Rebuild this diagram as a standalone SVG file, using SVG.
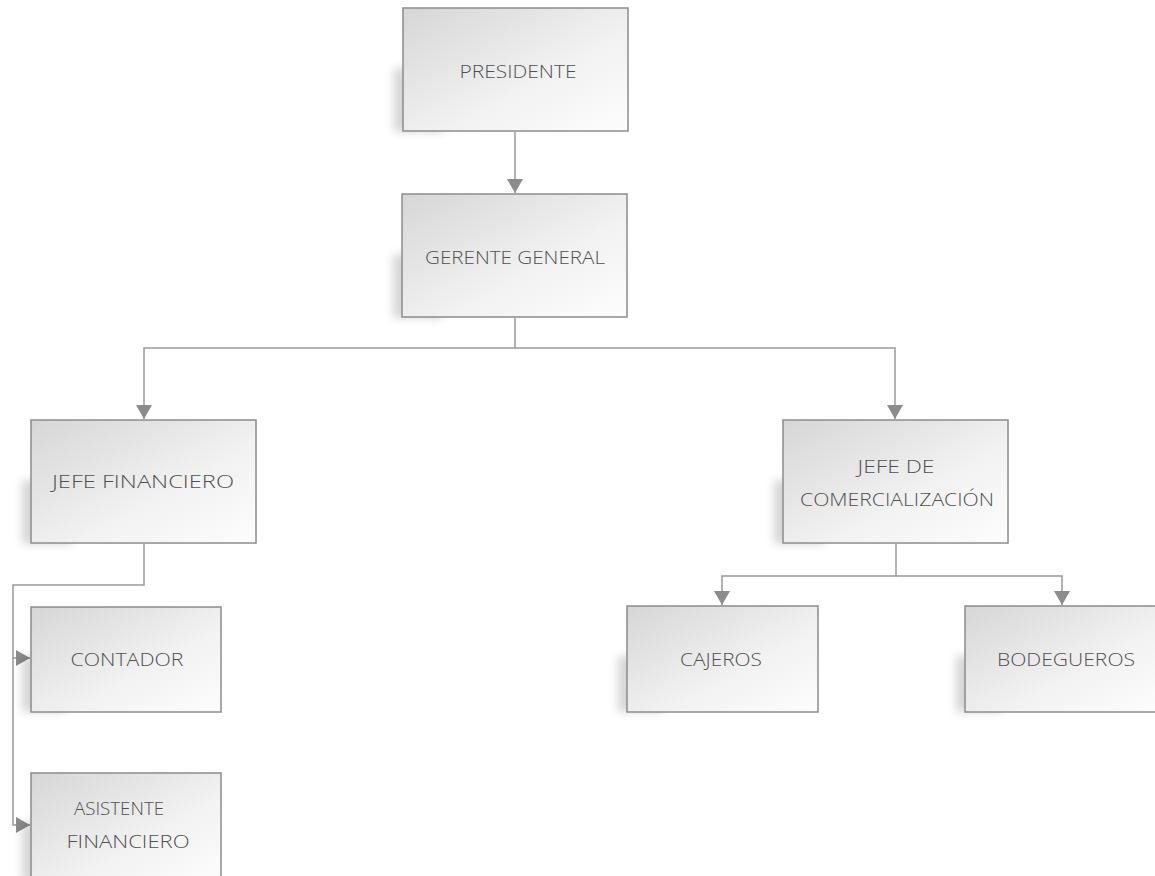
<svg xmlns="http://www.w3.org/2000/svg" width="1155" height="876" viewBox="0 0 1155 876">
<defs>
<linearGradient id="g" x1="0" y1="0" x2="1" y2="1">
<stop offset="0" stop-color="#d6d6d6"/>
<stop offset="0.6" stop-color="#f2f2f2"/>
<stop offset="1" stop-color="#fdfdfd"/>
</linearGradient>
<filter id="sh" x="-30%" y="-30%" width="160%" height="160%">
<feGaussianBlur stdDeviation="5"/>
</filter>
<marker id="ah" viewBox="0 0 14 16" refX="14" refY="8" markerWidth="14" markerHeight="16" markerUnits="userSpaceOnUse" orient="auto">
<path d="M0,0 L14,8 L0,16 Z" fill="#8c8c8c"/>
</marker>
<style>
.box{fill:url(#g);stroke:#8c8c8c;stroke-width:1.5}
.shd{fill:#000;opacity:0.16;filter:url(#sh)}
.lbl{font-family:"Open Sans","Liberation Sans",sans-serif;font-weight:300;font-size:18px;fill:#505050;text-anchor:middle}
.con{fill:none;stroke:#999;stroke-width:1.5}
</style>
</defs>
<g id="connectors">
<path class="con" d="M515,132 V193" marker-end="url(#ah)"/>
<path class="con" d="M515,318 V348 H144 V419" marker-end="url(#ah)"/>
<path class="con" d="M515,348 H895 V419" marker-end="url(#ah)"/>
<path class="con" d="M144,544 V585 H13 V658 H30" marker-end="url(#ah)"/>
<path class="con" d="M13,658 V825 H30" marker-end="url(#ah)"/>
<path class="con" d="M896,544 V576 H722 V605" marker-end="url(#ah)"/>
<path class="con" d="M896,576 H1062 V605" marker-end="url(#ah)"/>
</g>
<g id="presidente">
<rect class="shd" x="394" y="68" width="50" height="64"/>
<rect class="box" x="403" y="8" width="225" height="123"/>
<text class="lbl" x="518" y="78" textLength="117" lengthAdjust="spacingAndGlyphs">PRESIDENTE</text>
</g>
<g id="gerente">
<rect class="shd" x="393" y="254" width="50" height="64"/>
<rect class="box" x="402" y="194" width="225" height="123"/>
<text class="lbl" x="515" y="264" textLength="180" lengthAdjust="spacingAndGlyphs">GERENTE GENERAL</text>
</g>
<g id="jefe-financiero">
<rect class="shd" x="22" y="480" width="50" height="64"/>
<rect class="box" x="31" y="420" width="225" height="123"/>
<text class="lbl" x="143" y="488" textLength="182" lengthAdjust="spacingAndGlyphs">JEFE FINANCIERO</text>
</g>
<g id="jefe-comercializacion">
<rect class="shd" x="774" y="480" width="50" height="64"/>
<rect class="box" x="783" y="420" width="225" height="123"/>
<text class="lbl" x="896" y="473" textLength="77" lengthAdjust="spacingAndGlyphs">JEFE DE</text>
<text class="lbl" x="897" y="506" textLength="194" lengthAdjust="spacingAndGlyphs">COMERCIALIZACIÓN</text>
</g>
<g id="contador">
<rect class="shd" x="22" y="656" width="45" height="56"/>
<rect class="box" x="31" y="607" width="190" height="105"/>
<text class="lbl" x="127" y="666" textLength="113" lengthAdjust="spacingAndGlyphs">CONTADOR</text>
</g>
<g id="asistente-financiero">
<rect class="shd" x="22" y="822" width="45" height="60"/>
<rect class="box" x="31" y="773" width="190" height="110"/>
<text class="lbl" x="119" y="815" textLength="90" lengthAdjust="spacingAndGlyphs">ASISTENTE</text>
<text class="lbl" x="128" y="848" textLength="123" lengthAdjust="spacingAndGlyphs">FINANCIERO</text>
</g>
<g id="cajeros">
<rect class="shd" x="618" y="656" width="45" height="56"/>
<rect class="box" x="627" y="606" width="191" height="106"/>
<text class="lbl" x="721" y="666" textLength="82" lengthAdjust="spacingAndGlyphs">CAJEROS</text>
</g>
<g id="bodegueros">
<rect class="shd" x="956" y="656" width="45" height="56"/>
<rect class="box" x="965" y="606" width="192" height="106"/>
<text class="lbl" x="1066" y="666" textLength="138" lengthAdjust="spacingAndGlyphs">BODEGUEROS</text>
</g>
</svg>
